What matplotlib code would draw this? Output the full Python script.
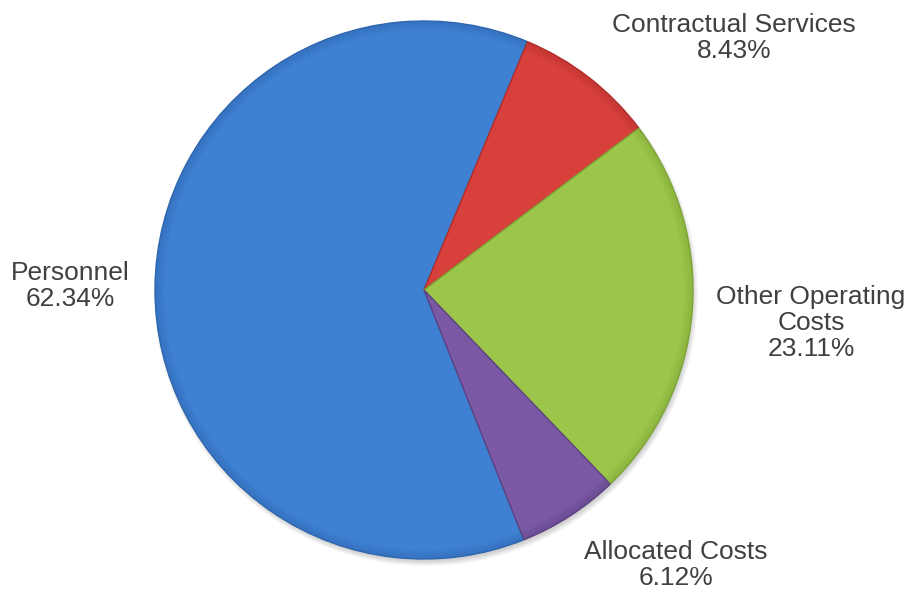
import numpy as np
import matplotlib
matplotlib.use('Agg')
import matplotlib.pyplot as plt
from matplotlib.patches import Wedge

plt.rcParams['font.family'] = ['Liberation Sans', 'DejaVu Sans']

labels = ['Personnel', 'Contractual Services', 'Other Operating\nCosts', 'Allocated Costs']
shares = [62.34, 8.43, 23.11, 6.12]
colors = ['#3E80D2', '#D8403C', '#9CC64A', '#7A58A4']
edges = ['#2F66AE', '#B22E2B', '#7DA436', '#5E4284']

# label centres (figure pixels, y down)
label_pos = [(70, 286), (734, 38), (811, 323), (676, 565)]

fig = plt.figure(figsize=(9.1, 5.92), dpi=100)
ax = fig.add_axes([0, 0, 1, 1])

cx, cy, r = 424, 290, 269

# soft shadow
for k in range(6):
    ax.add_patch(plt.Circle((cx + 2, cy + 4), r + 3 - k, color='black',
                            alpha=0.03, lw=0, zorder=1))

# y axis is flipped, so counterclock=True draws clockwise on screen
wedges, _ = ax.pie(shares, colors=colors, startangle=-291.8, counterclock=True,
                   center=(cx, cy), radius=r, frame=True,
                   wedgeprops=dict(linewidth=1.0, zorder=2))
for w, ec in zip(wedges, edges):
    w.set_edgecolor(ec)
    # darker rim fading in towards the circumference
    for k in range(6):
        ax.add_patch(Wedge((cx, cy), r - k * 1.5, w.theta1, w.theta2, width=1.5,
                           facecolor=ec, alpha=0.5 - k * 0.08, lw=0, zorder=3))

ax.set_xlim(0, 910)
ax.set_ylim(592, 0)
ax.set_aspect('equal')
ax.axis('off')

for lab, val, (x, y) in zip(labels, shares, label_pos):
    ax.text(x, y, f'{lab}\n{val:.2f}%', ha='center', va='center',
            fontsize=19, color='#404040', linespacing=1.08)

fig.savefig('out.png', dpi=100)
